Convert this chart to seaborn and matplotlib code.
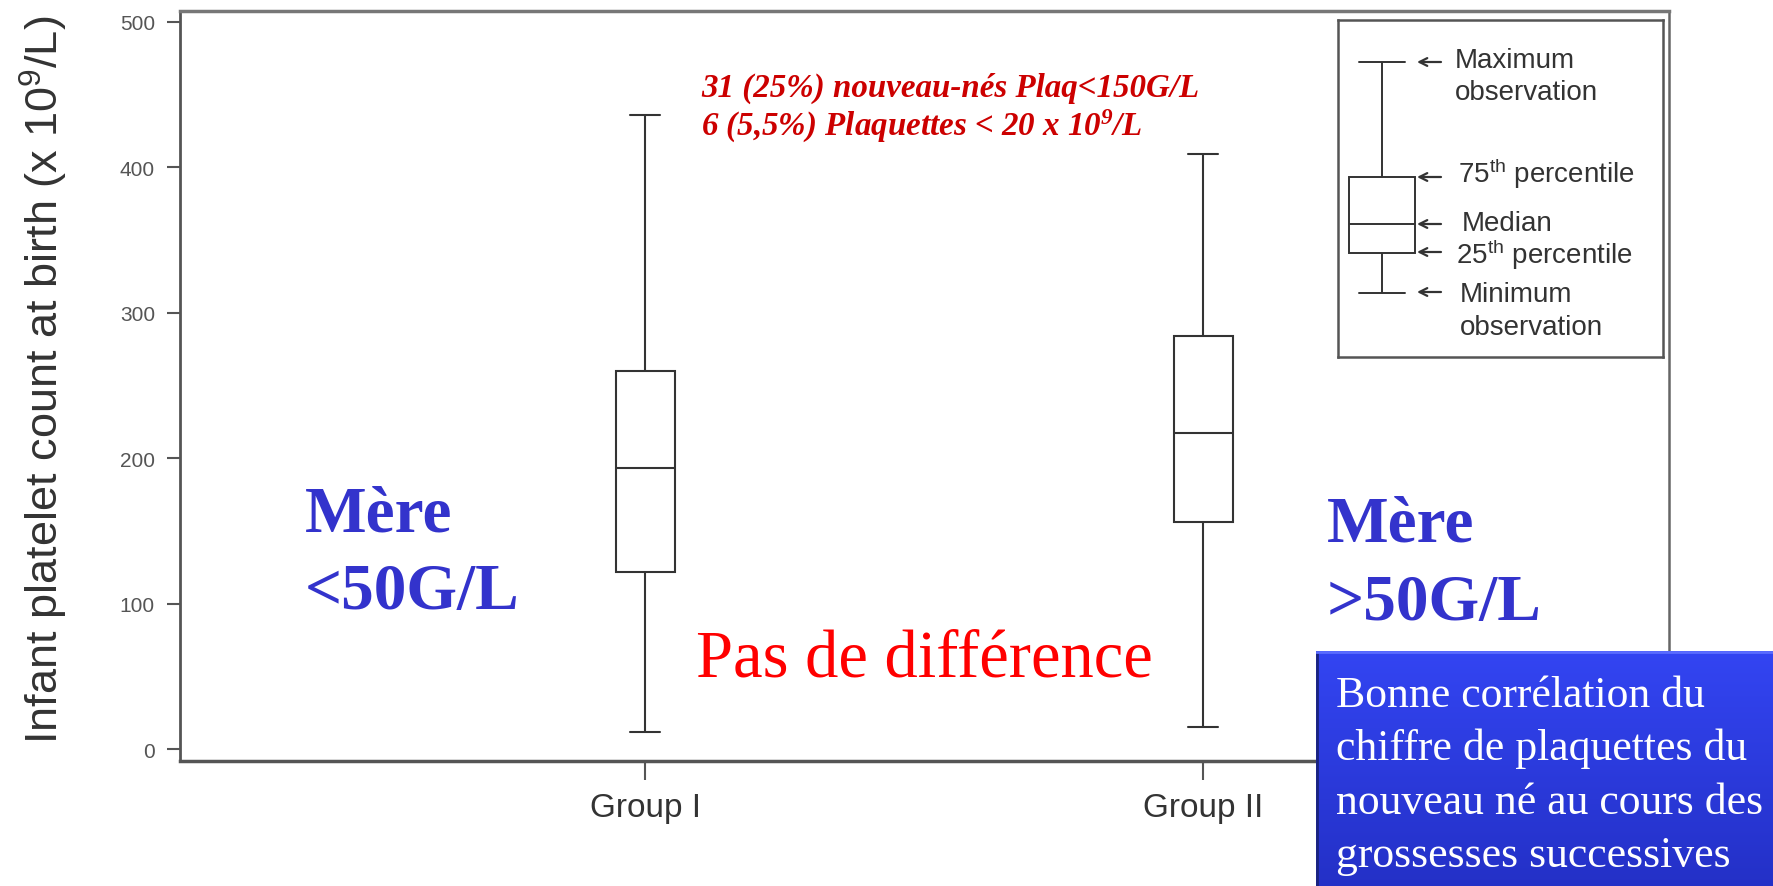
import numpy as np
import pandas as pd
import seaborn as sns
import matplotlib.pyplot as plt

W, H = 1774, 887

# ---- data (five-number summaries: min, Q1, median, Q3, max)
groups = ["Group I", "Group II"]
group1_summary = [12, 122, 193, 260, 436]
group2_summary = [15, 156, 217, 284, 409]
yticks = [0, 100, 200, 300, 400, 500]
legend_summary = [19, 31, 39.5, 53.5, 87.5]
legend_labels = [("Maximum", "observation"), ("75$\\mathregular{^{th}}$ percentile",),
                 ("Median",), ("25$\\mathregular{^{th}}$ percentile",), ("Minimum", "observation")]
note_lines = ["31 (25%) nouveau-nés Plaq<150G/L",
              "6 (5,5%) Plaquettes < 20 x 10$\\mathregular{^9}$/L"]
box_lines = ["Bonne corrélation du", "chiffre de plaquettes du",
             "nouveau né au cours des", "grossesses successives"]

sns.set_style("white")
plt.rcParams['font.family'] = ['Liberation Sans', 'DejaVu Sans']

df = pd.DataFrame({
    "group": [groups[0]] * len(group1_summary) + [groups[1]] * len(group2_summary),
    "value": group1_summary + group2_summary,
})

fig = plt.figure(figsize=(W / 100, H / 100), dpi=100)
fig.patch.set_facecolor("white")

def fx(x):
    return x / W

def fy(y):
    return 1 - y / H

ax = fig.add_axes([fx(180), fy(762), fx(1669) - fx(180), fy(12) - fy(762)])
sns.boxplot(data=df, x="group", y="value", whis=(0, 100), width=0.106,
            color="white", linecolor="#333333", linewidth=1.5,
            showfliers=False, ax=ax)
ax.set_xlim(-0.834, 1.835)
ax.set_ylim(-8.2, 507.5)
ax.set_yticks(yticks)
ax.set_yticklabels([str(t) for t in yticks], fontsize=15, color="#555555",
                   family=['Liberation Sans Narrow', 'Liberation Sans'])
ax.set_xticks([0, 1])
ax.set_xticklabels(groups, fontsize=24, color="#333333")
ax.set_xlabel("")
ax.set_ylabel("Infant platelet count at birth (x 10$\\mathregular{^9}$/L)",
              fontsize=32.5, color="#333333")
ax.yaxis.set_label_coords(-0.074, 0.509)
ax.tick_params(axis="y", length=9.5, width=1.5, color="#555555", pad=8.5, left=True)
ax.tick_params(axis="x", length=14, width=1.5, color="#555555", pad=8, bottom=True)
for side, lw, col in [("left", 2.0, "#555555"), ("top", 2.5, "#777777"),
                      ("bottom", 2.5, "#555555"), ("right", 1.8, "#666666")]:
    ax.spines[side].set_visible(True)
    ax.spines[side].set_linewidth(lw)
    ax.spines[side].set_color(col)
ax.set_facecolor("white")

# ---- schematic legend box
lax = fig.add_axes([fx(1338), fy(358), fx(1663) - fx(1338), fy(21) - fy(358)])
sns.boxplot(y=legend_summary, whis=(0, 100), width=0.203, color="white",
            linecolor="#333333", linewidth=1.4, showfliers=False,
            capwidths=0.14, ax=lax)
lax.set_xlim(-0.1354, 0.8646)
lax.set_ylim(0, 100)
lax.set_xticks([])
lax.set_yticks([])
lax.set_xlabel("")
lax.set_ylabel("")
for s in lax.spines.values():
    s.set_visible(True)
    s.set_linewidth(1.8)
    s.set_color("#555555")

leg_txt = dict(fontsize=20, color="#333333")
arrow_ys = [63, 178, 225, 253, 293]
label_pos = [[(1455, 68), (1455, 100)], [(1458, 183)], [(1462, 231)],
             [(1456, 264)], [(1460, 302), (1460, 335)]]
for ay, labs, pos in zip(arrow_ys, legend_labels, label_pos):
    lax.annotate("", xy=(fx(1417), fy(ay)), xytext=(fx(1441), fy(ay)),
                 xycoords="figure fraction", textcoords="figure fraction",
                 arrowprops=dict(arrowstyle="->", lw=1.6, color="#333333",
                                 shrinkA=0, shrinkB=0, mutation_scale=14))
    for lab, (px, py) in zip(labs, pos):
        fig.text(fx(px), fy(py), lab, ha="left", va="baseline", **leg_txt)

# ---- annotations
red_kw = dict(fontsize=23.8, color="#cc0000", family=['Liberation Serif', 'DejaVu Serif'],
              style="italic", weight="bold", ha="left", va="baseline")
fig.text(fx(701), fy(97), note_lines[0], **red_kw)
fig.text(fx(701), fy(136), note_lines[1], **red_kw)

blue_kw = dict(fontsize=47, color="#3333cc", family=['Liberation Serif', 'DejaVu Serif'],
               weight="bold", ha="left", va="baseline")
fig.text(fx(305), fy(532), "Mère", **blue_kw)
fig.text(fx(305), fy(609), "<50G/L", **blue_kw)
fig.text(fx(1327), fy(541), "Mère", **blue_kw)
fig.text(fx(1327), fy(620), ">50G/L", **blue_kw)

fig.text(fx(696), fy(677), "Pas de différence", fontsize=48, color="#ff0000",
         family=['Liberation Serif', 'DejaVu Serif'], ha="left", va="baseline")

# ---- blue gradient box
bax = fig.add_axes([fx(1316), 0, 1 - fx(1316), fy(652)])
top = np.array([0.20, 0.27, 0.95])
bot = np.array([0.14, 0.19, 0.78])
t = np.linspace(0, 1, 256)[:, None, None]
grad = top * (1 - t) + bot * t
grad = np.repeat(grad, 2, axis=1)
bax.imshow(grad, aspect="auto", extent=[0, 1, 0, 1])
bax.set_xlim(0, 1)
bax.set_ylim(0, 1)
bax.set_xticks([])
bax.set_yticks([])
for s in bax.spines.values():
    s.set_visible(False)
bax.axvline(0.003, color="#1a237e", lw=2)
bax.axhline(0.995, color="#5a6cff", lw=2)
bax.set_zorder(5)

for i, line in enumerate(box_lines):
    fig.text(fx(1336), fy(707 + 53.5 * i), line, fontsize=31.5, color="white",
             family=['Liberation Serif', 'DejaVu Serif'], ha="left", va="baseline",
             zorder=10)

fig.savefig("out.png", dpi=100, facecolor="white")
